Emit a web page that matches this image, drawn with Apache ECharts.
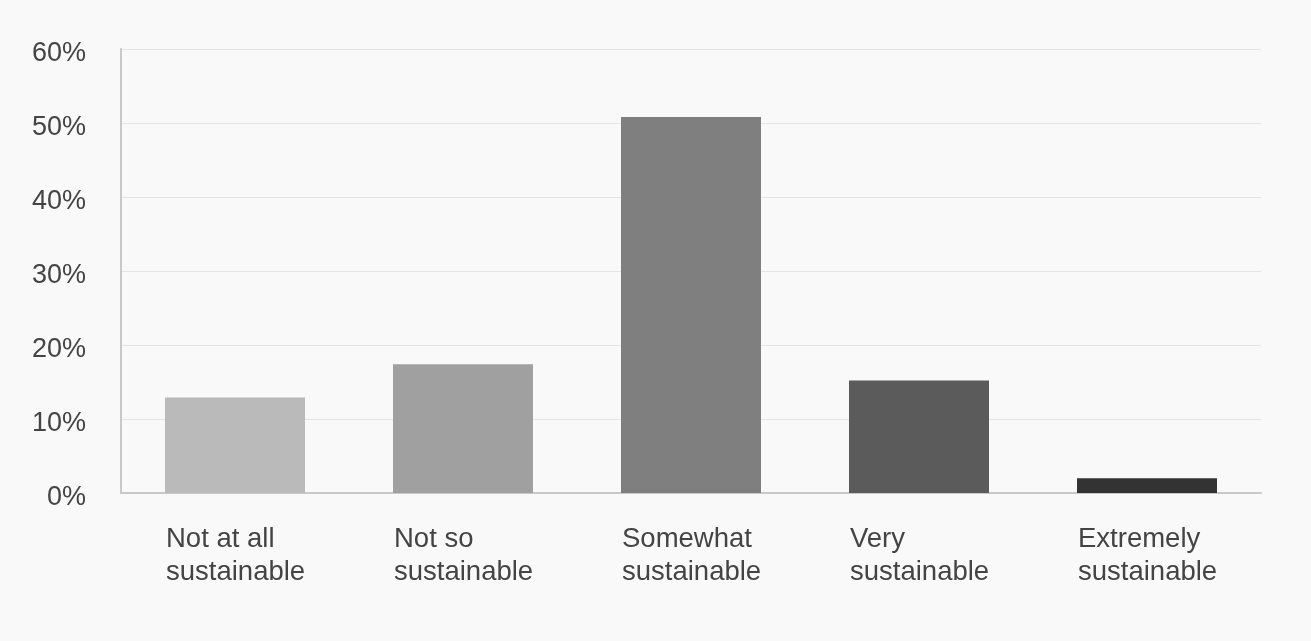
<!DOCTYPE html>
<html>
<head>
<meta charset="utf-8">
<script src="https://cdn.jsdelivr.net/npm/echarts@6/dist/echarts.min.js"></script>
<style>
  html, body { margin: 0; padding: 0; background: #f9f9f9; }
  #chart { width: 1311px; height: 641px; }
</style>
</head>
<body>
<div id="chart"></div>
<script>
// categories, values (percent) and colours of each bar
const categories = ['Not at all\nsustainable', 'Not so\nsustainable', 'Somewhat\nsustainable', 'Very\nsustainable', 'Extremely\nsustainable'];
const values = [12.9, 17.4, 50.8, 15.2, 2.0];
const barColors = ['#bababa', '#a0a0a0', '#7f7f7f', '#5b5b5b', '#333333'];

const font = '"Liberation Sans", Arial, sans-serif';
const chart = echarts.init(document.getElementById('chart'));

chart.setOption({
    backgroundColor: '#f9f9f9',
    animation: false,
    grid: { left: 121, right: 50, top: 49, bottom: 148 },
    xAxis: {
        type: 'category',
        data: categories,
        axisTick: { show: false },
        axisLine: { lineStyle: { color: '#c9c9c9', width: 2 } },
        axisLabel: {
            margin: 30,
            formatter: v => v.split('\n').map(s => '{a|' + s + '}').join('\n'),
            rich: {
                a: { width: 138, align: 'left', fontFamily: font, fontSize: 27.5, lineHeight: 33, color: '#444' }
            }
        }
    },
    yAxis: {
        type: 'value',
        min: 0, max: 60, interval: 10,
        axisLine: { show: true, lineStyle: { color: '#c9c9c9', width: 2 } },
        axisLabel: {
            formatter: '{v|{value}%}',
            margin: 35,
            rich: { v: { fontFamily: font, fontSize: 27, color: '#444', padding: [10, 0, 0, 0] } }
        },
        splitLine: { lineStyle: { color: '#e4e4e4', width: 1 } }
    },
    series: [{
        type: 'bar',
        barWidth: 140,
        data: values.map((v, i) => ({ value: v, itemStyle: { color: barColors[i] } }))
    }]
});
</script>
</body>
</html>
